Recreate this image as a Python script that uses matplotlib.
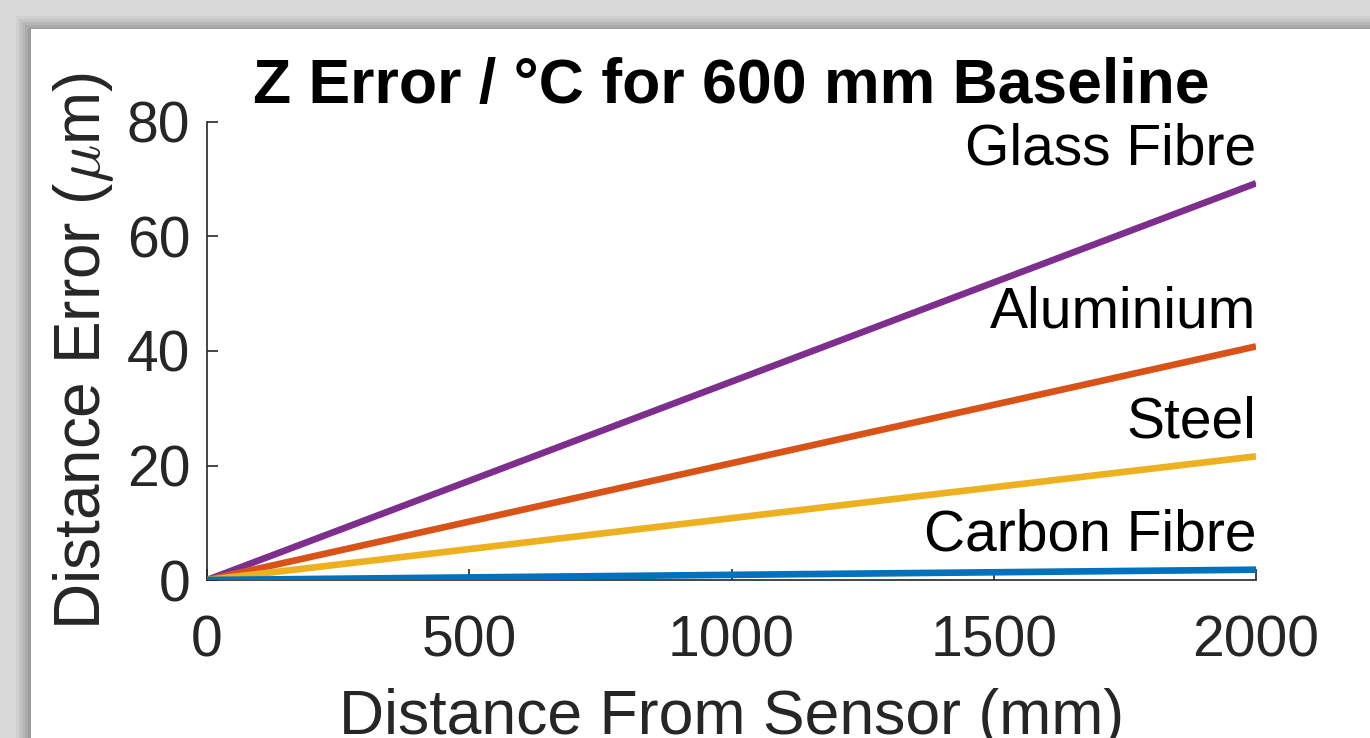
import matplotlib
matplotlib.use("Agg")
import matplotlib.pyplot as plt
from matplotlib.patches import Rectangle

# distance from sensor (mm) and Z error per degree C (um) for each material
distance_mm = [0, 2000]
materials = ["Glass Fibre", "Aluminium", "Steel", "Carbon Fibre"]
error_um = {
    "Glass Fibre": [0, 69.3],
    "Aluminium": [0, 40.8],
    "Steel": [0, 21.6],
    "Carbon Fibre": [0, 1.8],
}
colors = {
    "Glass Fibre": "#7E2F8E",
    "Aluminium": "#D95319",
    "Steel": "#EDB120",
    "Carbon Fibre": "#0072BD",
}
x_ticks = [0, 500, 1000, 1500, 2000]
y_ticks = [0, 20, 40, 60, 80]

plt.rcParams["font.family"] = ["Liberation Sans", "DejaVu Sans"]
plt.rcParams["mathtext.fontset"] = "cm"

W, H = 1370, 738
fig = plt.figure(figsize=(W / 100, H / 100), dpi=100, facecolor="#d8d8d8")

# grey frame with a soft shadow around the white panel
shadow = ["#d0d0d0", "#c4c4c4", "#b8b8b8", "#aaaaaa", "#9c9c9c"]
for i, c in enumerate(shadow):
    off = 16 + i * 3
    fig.patches.append(Rectangle((off / W, 0), 1, 1 - off / H, transform=fig.transFigure,
                                 facecolor=c, edgecolor="none", zorder=-3))
fig.patches.append(Rectangle((31 / W, 0), 1, 1 - 29 / H, transform=fig.transFigure,
                             facecolor="white", edgecolor="none", zorder=-2))

ax = fig.add_axes([207 / W, 1 - 580 / H, (1256 - 207) / W, (580 - 122) / H])
ax.set_facecolor("none")

for name in materials:
    ax.plot(distance_mm, error_um[name], color=colors[name], linewidth=4.8,
            solid_capstyle="butt", zorder=3)
    ax.annotate(name, (distance_mm[-1], error_um[name][-1]), xytext=(0, 5),
                textcoords="offset points", ha="right", va="bottom",
                fontsize=41, color="black", annotation_clip=False)

ax.set_xlim(0, 2000)
ax.set_ylim(0, 80)
ax.set_xticks(x_ticks)
ax.set_yticks(y_ticks)

for side in ["top", "right"]:
    ax.spines[side].set_visible(False)
for side in ["left", "bottom"]:
    ax.spines[side].set_color("#262626")
    ax.spines[side].set_linewidth(1.2)

ax.tick_params(direction="in", length=8, width=1.2, colors="#262626",
               labelsize=41, labelcolor="#262626")
ax.tick_params(axis="x", pad=25)
ax.tick_params(axis="y", pad=12)

ax.set_title("Z Error / °C for 600 mm Baseline", fontsize=45, fontweight="bold", pad=14)
ax.set_xlabel("Distance From Sensor (mm)", fontsize=45, color="#262626", labelpad=14)
ax.set_ylabel("Distance Error ($\\mu$m)", fontsize=46, color="#262626", labelpad=8)

fig.savefig("out.png", dpi=100, facecolor=fig.get_facecolor())
